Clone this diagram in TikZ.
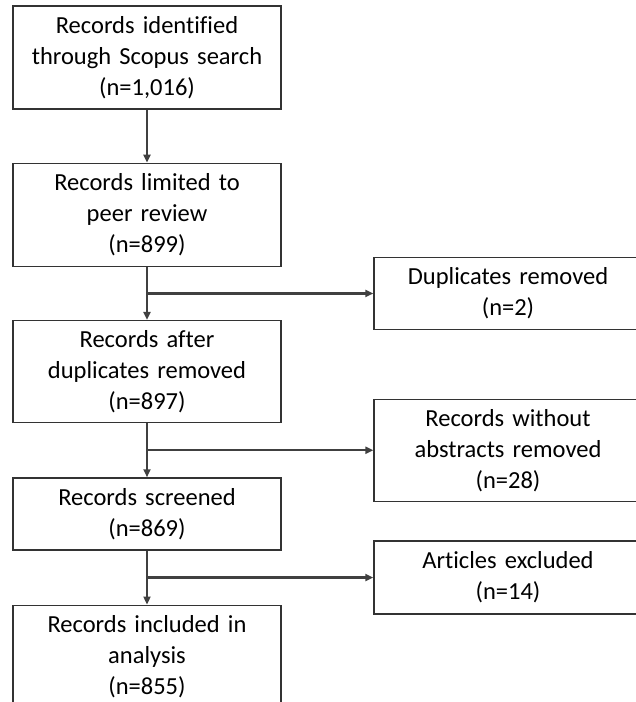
\documentclass[tikz,border=0pt]{standalone}
\usepackage{fontspec}
\setmainfont[Ligatures={NoCommon}]{Carlito}
\usepackage{tikz}
\usetikzlibrary{positioning,arrows.meta,calc}

\definecolor{boxline}{HTML}{333333}
\definecolor{flowline}{HTML}{404040}

\tikzset{
  stage/.style={draw=boxline, line width=1.3pt, text width=260pt, align=center,
    inner sep=4pt, font=\fontsize{24.5}{31}\selectfont},
  flow/.style={draw=flowline, line width=2.2pt, -{Triangle[length=8pt,width=7pt]}}
}

\begin{document}
\begin{tikzpicture}[x=1pt,y=1pt]
\clip (0,0) rectangle (636,-702);

% Main column
\node[stage, minimum height=103pt] (ident) at (147,-57.5) {Records identified\\through Scopus search\\(n=1,016)};
\node[stage, minimum height=103pt, below=53pt of ident] (peer) {Records limited to\\peer review\\(n=899)};
\node[stage, minimum height=102pt, below=53pt of peer] (dedup) {Records after\\duplicates removed\\(n=897)};
\node[stage, minimum height=72pt, below=54pt of dedup] (screen) {Records screened\\(n=869)};
\node[stage, minimum height=103pt, below=54pt of screen] (incl) {Records included in\\analysis\\(n=855)};

% Junctions
\coordinate (j1) at ($(peer.south)!0.5!(dedup.north)$);
\coordinate (j2) at ($(dedup.south)!0.5!(screen.north)$);
\coordinate (j3) at ($(screen.south)!0.5!(incl.north)$);

% Exclusions
\node[stage, minimum height=72pt, xshift=361pt] (dupl) at (j1) {Duplicates removed\\(n=2)};
\node[stage, minimum height=102pt, xshift=361pt] (noabs) at (j2) {Records without\\abstracts removed\\(n=28)};
\node[stage, minimum height=73pt, xshift=361pt] (excl) at (j3) {Articles excluded\\(n=14)};

% Arrows
\draw[flow] (ident) -- (peer);
\draw[flow] (peer) -- (dedup);
\draw[flow] (dedup) -- (screen);
\draw[flow] (screen) -- (incl);
\draw[flow] (j1) -- (dupl.west);
\draw[flow] (j2) -- (noabs.west);
\draw[flow] (j3) -- (excl.west);
\end{tikzpicture}
\end{document}
